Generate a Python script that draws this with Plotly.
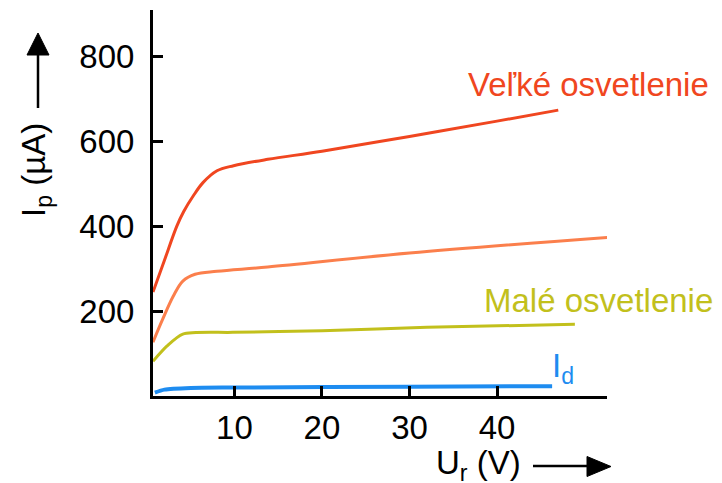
import plotly.graph_objects as go

# Photodiode characteristics: reverse current Ip vs reverse voltage Ur
x_strong = [0.69, 2.0, 3.4, 4.2, 5.3, 6.4, 8.0, 9.9, 13.8, 20, 30, 40, 47]
y_strong = [245, 320, 400, 435, 472, 503, 531, 543, 558, 577, 612, 648, 674]

x_medium = [0.69, 1.8, 3.0, 4.1, 5.5, 8, 13.8, 30, 52.6]
y_medium = [127, 181, 235, 271, 287, 294, 304, 337, 374]

x_weak = [0.69, 2.3, 4.1, 9.8, 20, 32, 48.9]
y_weak = [82, 118, 146, 150, 154, 162, 169]

x_dark = [0.9, 2.0, 5, 10, 30, 46.3]
y_dark = [8, 15, 19, 20, 22, 23]

x_ticks = [10, 20, 30, 40]
y_ticks = [200, 400, 600, 800]

W, H = 722, 483
ML, MR, MT, MB = 153, 115, 10, 87
PW, PH = W - ML - MR, H - MT - MB


def px(x):
    return (x - ML) / PW


def py(y):
    return (H - MB - y) / PH


FONT = "Arial, Liberation Sans, sans-serif"
FS = 33
RED = "#f04620"
ORANGE = "#fb7f4c"
OLIVE = "#c2c01c"
BLUE = "#1e8cf0"

fig = go.Figure()
for xs, ys, col, w, sm in [
    (x_dark, y_dark, BLUE, 4, 0.7),
    (x_weak, y_weak, OLIVE, 3, 0.7),
    (x_medium, y_medium, ORANGE, 3, 1.0),
    (x_strong, y_strong, RED, 3, 1.0),
]:
    fig.add_trace(go.Scatter(
        x=xs, y=ys, mode="lines",
        line=dict(color=col, width=w, shape="spline", smoothing=sm),
        showlegend=False, hoverinfo="skip",
    ))

axis_common = dict(
    showline=True, linecolor="black", linewidth=3,
    ticks="inside", ticklen=10, tickwidth=2.5, tickcolor="black",
    showgrid=False, zeroline=False,
    tickfont=dict(family=FONT, size=FS, color="black"),
)
fig.update_xaxes(range=[0.69, 52.57], tickvals=x_ticks, ticklabelstandoff=0, **axis_common)
fig.update_yaxes(range=[0, 910], tickvals=y_ticks, ticklabelstandoff=9, **axis_common)

annotations = [
    dict(text="Veľké osvetlenie", x=px(466), y=py(84), xanchor="left", yanchor="middle",
         font=dict(color=RED, size=FS, family=FONT)),
    dict(text="Malé osvetlenie", x=px(482), y=py(300), xanchor="left", yanchor="middle",
         font=dict(color=OLIVE, size=FS, family=FONT)),
    dict(text="I<sub>d</sub>", x=px(550), y=py(368), xanchor="left", yanchor="middle",
         font=dict(color=BLUE, size=FS, family=FONT)),
    dict(text="U<sub>r</sub> (V)", x=px(434), y=py(465), xanchor="left", yanchor="middle",
         font=dict(color="black", size=FS, family=FONT)),
    dict(text="I<sub>p</sub> (µA)", x=px(36), y=py(170), xanchor="center", yanchor="middle",
         textangle=-90, font=dict(color="black", size=FS, family=FONT)),
]
for a in annotations:
    a.update(xref="paper", yref="paper", showarrow=False)

shapes = [
    # horizontal arrow after the x-axis title
    dict(type="line", x0=px(533), x1=px(590), y0=py(466), y1=py(466),
         line=dict(color="black", width=2.5)),
    dict(type="path",
         path=f"M {px(587)} {py(456.5)} L {px(611)} {py(466.5)} L {px(587)} {py(476.5)} Z",
         fillcolor="black", line=dict(color="black", width=1)),
    # vertical arrow above the y-axis title
    dict(type="line", x0=px(38), x1=px(38), y0=py(108), y1=py(52),
         line=dict(color="black", width=2.5)),
    dict(type="path",
         path=f"M {px(27)} {py(55)} L {px(38)} {py(33)} L {px(49)} {py(55)} Z",
         fillcolor="black", line=dict(color="black", width=1)),
]
for s in shapes:
    s.update(xref="paper", yref="paper")

fig.update_layout(
    width=W, height=H,
    margin=dict(l=ML, r=MR, t=MT, b=MB),
    paper_bgcolor="white", plot_bgcolor="white",
    annotations=annotations, shapes=shapes,
    font=dict(family=FONT),
)

fig.write_html("out.html")
